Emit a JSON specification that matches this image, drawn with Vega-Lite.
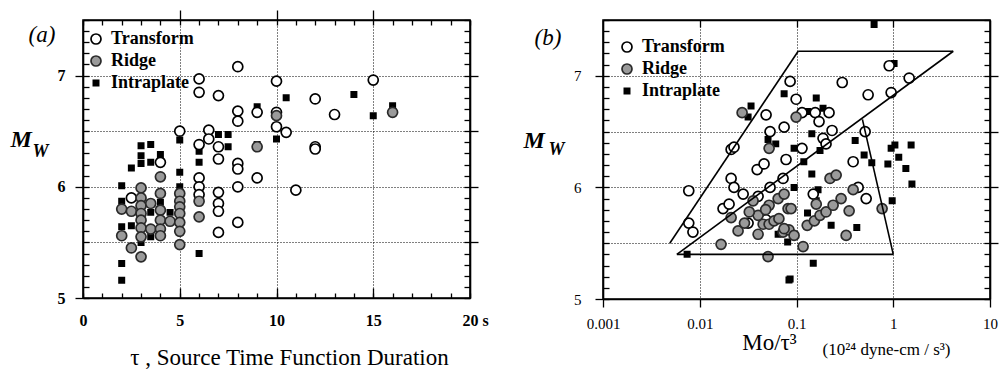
{
  "$schema": "https://vega.github.io/schema/vega-lite/v6.json",
  "padding": {"left": 10, "top": 9, "right": 5, "bottom": 0},
  "spacing": 22,
  "datasets": {
    "a": [
      {"t":"Intraplate","x":2,"m":6.01},{"t":"Intraplate","x":2,"m":5.87},{"t":"Intraplate","x":2,"m":5.64},{"t":"Intraplate","x":2,"m":5.31},{"t":"Intraplate","x":2,"m":5.16},
      {"t":"Intraplate","x":2.5,"m":6.17},{"t":"Intraplate","x":2.5,"m":5.65},{"t":"Intraplate","x":3,"m":6.37},{"t":"Intraplate","x":3,"m":6.28},{"t":"Intraplate","x":3,"m":6.21},
      {"t":"Intraplate","x":3,"m":5.5},{"t":"Intraplate","x":3.5,"m":6.38},{"t":"Intraplate","x":3.5,"m":6.22},{"t":"Intraplate","x":3.5,"m":5.77},{"t":"Intraplate","x":3.5,"m":5.55},
      {"t":"Intraplate","x":4,"m":6.29},{"t":"Intraplate","x":4,"m":5.86},{"t":"Intraplate","x":4,"m":5.78},{"t":"Intraplate","x":4.5,"m":5.77},{"t":"Intraplate","x":5,"m":6.42},
      {"t":"Intraplate","x":5,"m":6.13},{"t":"Intraplate","x":5,"m":6.0},{"t":"Intraplate","x":6,"m":6.32},{"t":"Intraplate","x":6,"m":6.22},{"t":"Intraplate","x":6,"m":5.4},
      {"t":"Intraplate","x":7,"m":6.47},{"t":"Intraplate","x":7.5,"m":6.47},{"t":"Intraplate","x":7.5,"m":6.36},{"t":"Intraplate","x":9,"m":6.72},{"t":"Intraplate","x":9,"m":6.38},
      {"t":"Intraplate","x":10,"m":6.43},{"t":"Intraplate","x":10.5,"m":6.8},{"t":"Intraplate","x":14,"m":6.83},{"t":"Intraplate","x":15,"m":6.64},{"t":"Intraplate","x":16,"m":6.73},
      {"t":"Transform","x":6,"m":6.97},{"t":"Transform","x":6,"m":6.85},{"t":"Transform","x":7,"m":6.82},{"t":"Transform","x":8,"m":7.08},{"t":"Transform","x":8,"m":6.68},
      {"t":"Transform","x":8,"m":6.59},{"t":"Transform","x":5,"m":6.5},{"t":"Transform","x":6.5,"m":6.51},{"t":"Transform","x":6.5,"m":6.43},{"t":"Transform","x":6,"m":6.38},
      {"t":"Transform","x":7,"m":6.36},{"t":"Transform","x":7,"m":6.25},{"t":"Transform","x":4,"m":6.22},{"t":"Transform","x":8,"m":6.21},{"t":"Transform","x":8,"m":6.16},
      {"t":"Transform","x":6,"m":6.08},{"t":"Transform","x":6,"m":6.0},{"t":"Transform","x":6,"m":5.93},{"t":"Transform","x":8,"m":6.0},{"t":"Transform","x":7,"m":5.95},
      {"t":"Transform","x":2.5,"m":5.9},{"t":"Transform","x":7,"m":5.85},{"t":"Transform","x":7,"m":5.78},{"t":"Transform","x":7,"m":5.59},{"t":"Transform","x":8,"m":5.68},
      {"t":"Transform","x":10,"m":6.95},{"t":"Transform","x":12,"m":6.79},{"t":"Transform","x":10,"m":6.67},{"t":"Transform","x":9,"m":6.67},{"t":"Transform","x":13,"m":6.65},
      {"t":"Transform","x":10,"m":6.54},{"t":"Transform","x":10.5,"m":6.49},{"t":"Transform","x":12,"m":6.36},{"t":"Transform","x":12,"m":6.34},{"t":"Transform","x":9,"m":6.08},
      {"t":"Transform","x":11,"m":5.97},{"t":"Transform","x":15,"m":6.96},
      {"t":"Ridge","x":2,"m":5.8},{"t":"Ridge","x":2,"m":5.56},{"t":"Ridge","x":2.5,"m":5.78},{"t":"Ridge","x":2.5,"m":5.45},{"t":"Ridge","x":3,"m":5.99},
      {"t":"Ridge","x":3,"m":5.9},{"t":"Ridge","x":3,"m":5.83},{"t":"Ridge","x":3,"m":5.76},{"t":"Ridge","x":3,"m":5.7},{"t":"Ridge","x":3,"m":5.63},
      {"t":"Ridge","x":3,"m":5.55},{"t":"Ridge","x":3,"m":5.37},{"t":"Ridge","x":3.5,"m":5.85},{"t":"Ridge","x":3.5,"m":5.62},{"t":"Ridge","x":4,"m":6.09},
      {"t":"Ridge","x":4,"m":5.94},{"t":"Ridge","x":4,"m":5.79},{"t":"Ridge","x":4,"m":5.7},{"t":"Ridge","x":4,"m":5.62},{"t":"Ridge","x":4,"m":5.56},
      {"t":"Ridge","x":4.5,"m":5.69},{"t":"Ridge","x":5,"m":5.94},{"t":"Ridge","x":5,"m":5.87},{"t":"Ridge","x":5,"m":5.82},{"t":"Ridge","x":5,"m":5.76},
      {"t":"Ridge","x":5,"m":5.68},{"t":"Ridge","x":5,"m":5.6},{"t":"Ridge","x":5,"m":5.48},{"t":"Ridge","x":6,"m":5.87},{"t":"Ridge","x":6,"m":5.73},
      {"t":"Ridge","x":9,"m":6.36},{"t":"Ridge","x":10,"m":6.64},{"t":"Ridge","x":16,"m":6.67}
    ],
    "b": [
      {"t":"Intraplate","x":0.0339,"m":6.73},{"t":"Intraplate","x":0.0316,"m":6.63},{"t":"Intraplate","x":0.0745,"m":6.84},{"t":"Intraplate","x":0.0508,"m":6.43},{"t":"Intraplate","x":0.061,"m":6.39},
      {"t":"Intraplate","x":0.0074,"m":5.4},{"t":"Intraplate","x":0.0836,"m":5.17},{"t":"Intraplate","x":0.634,"m":7.46},{"t":"Intraplate","x":1.02,"m":7.11},{"t":"Intraplate","x":0.16,"m":6.8},
      {"t":"Intraplate","x":0.13,"m":6.68},{"t":"Intraplate","x":0.188,"m":6.71},{"t":"Intraplate","x":0.144,"m":6.48},{"t":"Intraplate","x":0.0944,"m":6.35},{"t":"Intraplate","x":0.175,"m":6.33},
      {"t":"Intraplate","x":0.404,"m":6.42},{"t":"Intraplate","x":0.951,"m":6.35},{"t":"Intraplate","x":1.04,"m":6.38},{"t":"Intraplate","x":1.53,"m":6.38},{"t":"Intraplate","x":1.14,"m":6.27},
      {"t":"Intraplate","x":0.5,"m":6.29},{"t":"Intraplate","x":0.6,"m":6.22},{"t":"Intraplate","x":0.88,"m":6.21},{"t":"Intraplate","x":1.35,"m":6.17},{"t":"Intraplate","x":1.56,"m":6.03},
      {"t":"Intraplate","x":0.119,"m":6.23},{"t":"Intraplate","x":0.144,"m":6.12},{"t":"Intraplate","x":0.0944,"m":6.0},{"t":"Intraplate","x":0.167,"m":5.98},{"t":"Intraplate","x":0.16,"m":5.88},
      {"t":"Intraplate","x":0.13,"m":5.77},{"t":"Intraplate","x":0.228,"m":5.66},{"t":"Intraplate","x":0.42,"m":5.64},{"t":"Intraplate","x":0.975,"m":5.88},{"t":"Intraplate","x":0.081,"m":5.51},
      {"t":"Intraplate","x":0.149,"m":5.32},{"t":"Intraplate","x":0.0859,"m":5.18},{"t":"Intraplate","x":0.0646,"m":5.58},
      {"t":"Transform","x":0.0077,"m":5.97},{"t":"Transform","x":0.0077,"m":5.68},{"t":"Transform","x":0.0085,"m":5.6},{"t":"Transform","x":0.0211,"m":6.34},{"t":"Transform","x":0.0226,"m":6.36},
      {"t":"Transform","x":0.0211,"m":6.08},{"t":"Transform","x":0.0226,"m":6.0},{"t":"Transform","x":0.0281,"m":5.94},{"t":"Transform","x":0.0174,"m":5.81},{"t":"Transform","x":0.0201,"m":5.85},
      {"t":"Transform","x":0.0392,"m":6.16},{"t":"Transform","x":0.0462,"m":6.21},{"t":"Transform","x":0.0485,"m":6.65},{"t":"Transform","x":0.0533,"m":6.5},{"t":"Transform","x":0.0745,"m":6.54},
      {"t":"Transform","x":0.078,"m":6.25},{"t":"Transform","x":0.0726,"m":6.08},{"t":"Transform","x":0.0533,"m":6.0},{"t":"Transform","x":0.0401,"m":5.92},{"t":"Transform","x":0.0485,"m":5.71},
      {"t":"Transform","x":0.0316,"m":5.68},{"t":"Transform","x":0.0859,"m":6.95},{"t":"Transform","x":0.297,"m":6.94},{"t":"Transform","x":0.0991,"m":6.79},{"t":"Transform","x":0.114,"m":6.67},
      {"t":"Transform","x":0.156,"m":6.67},{"t":"Transform","x":0.217,"m":6.67},{"t":"Transform","x":0.171,"m":6.59},{"t":"Transform","x":0.55,"m":6.83},{"t":"Transform","x":0.233,"m":6.51},
      {"t":"Transform","x":0.188,"m":6.44},{"t":"Transform","x":0.202,"m":6.39},{"t":"Transform","x":0.114,"m":6.35},{"t":"Transform","x":0.385,"m":6.23},{"t":"Transform","x":0.434,"m":6.0},
      {"t":"Transform","x":0.525,"m":5.9},{"t":"Transform","x":0.149,"m":5.94},{"t":"Transform","x":0.951,"m":6.85},{"t":"Transform","x":1.46,"m":6.98},{"t":"Transform","x":0.908,"m":7.09},
      {"t":"Transform","x":0.512,"m":6.5},
      {"t":"Ridge","x":0.0274,"m":6.67},{"t":"Ridge","x":0.0521,"m":6.35},{"t":"Ridge","x":0.0211,"m":5.73},{"t":"Ridge","x":0.0166,"m":5.49},{"t":"Ridge","x":0.0508,"m":5.38},
      {"t":"Ridge","x":0.0249,"m":5.61},{"t":"Ridge","x":0.029,"m":5.68},{"t":"Ridge","x":0.0356,"m":5.88},{"t":"Ridge","x":0.0401,"m":5.75},{"t":"Ridge","x":0.0521,"m":5.84},
      {"t":"Ridge","x":0.0646,"m":5.9},{"t":"Ridge","x":0.0745,"m":5.94},{"t":"Ridge","x":0.0401,"m":5.58},{"t":"Ridge","x":0.0452,"m":5.67},{"t":"Ridge","x":0.0521,"m":5.67},
      {"t":"Ridge","x":0.0586,"m":5.7},{"t":"Ridge","x":0.0658,"m":5.72},{"t":"Ridge","x":0.0818,"m":5.81},{"t":"Ridge","x":0.0726,"m":5.6},{"t":"Ridge","x":0.0836,"m":5.62},
      {"t":"Ridge","x":0.0991,"m":6.63},{"t":"Ridge","x":0.0879,"m":5.81},{"t":"Ridge","x":0.0745,"m":5.63},{"t":"Ridge","x":0.0944,"m":5.57},{"t":"Ridge","x":0.117,"m":5.47},
      {"t":"Ridge","x":0.16,"m":5.85},{"t":"Ridge","x":0.129,"m":5.66},{"t":"Ridge","x":0.153,"m":5.7},{"t":"Ridge","x":0.175,"m":5.75},{"t":"Ridge","x":0.202,"m":5.78},
      {"t":"Ridge","x":0.239,"m":5.84},{"t":"Ridge","x":0.289,"m":5.9},{"t":"Ridge","x":0.222,"m":6.08},{"t":"Ridge","x":0.257,"m":6.11},{"t":"Ridge","x":0.385,"m":5.98},
      {"t":"Ridge","x":0.35,"m":5.79},{"t":"Ridge","x":0.326,"m":5.57},{"t":"Ridge","x":0.767,"m":5.81},{"t":"Ridge","x":0.0325,"m":5.78},{"t":"Ridge","x":0.048,"m":5.8}
    ],
    "seg": [
      {"x":0.0049,"y":5.5,"x2":0.104,"y2":7.22},
      {"x":0.104,"y":7.22,"x2":4.17,"y2":7.22},
      {"x":4.17,"y":7.22,"x2":0.0058,"y2":5.4},
      {"x":0.0058,"y":5.4,"x2":1.0,"y2":5.4},
      {"x":1.0,"y":5.4,"x2":0.48,"y2":6.61}
    ]
  },
  "hconcat": [
    {
      "width": 387,
      "height": 278,
      "resolve": {"axis": {"x": "independent", "y": "independent"}},
      "layer": [
        {
          "data": {"name": "a"},
          "mark": {"type": "point", "filled": true, "strokeWidth": 1.7, "opacity": 1},
          "encoding": {
            "x": {"field": "x", "type": "quantitative", "scale": {"domain": [0, 20], "nice": false, "zero": false},
              "axis": {"orient": "bottom", "values": [0, 5, 10, 15, 20], "domain": false, "ticks": false,
                "labelExpr": "datum.value == 20 ? '20    s' : format(datum.value, 'd')",
                "labelFontWeight": "bold", "labelFontSize": 16, "labelOverlap": false, "labelFlush": false, "labelBound": false,
                "labelPadding": 14,
                "labelAlign": {"condition": {"test": "datum.value == 20", "value": "left"}, "value": "center"},
                "labelOffset": {"condition": {"test": "datum.value == 20", "value": -8}, "value": 0},
                "grid": true,
                "title": "τ , Source Time Function Duration", "titleFontSize": 23, "titleFontWeight": "normal",
                "titleX": 206, "titleY": 66, "titleAlign": "center", "titleBaseline": "alphabetic"}},
            "y": {"field": "m", "type": "quantitative", "scale": {"domain": [5, 7.5], "nice": false, "zero": false},
              "axis": {"orient": "left", "values": [5, 6, 7], "domain": false, "tickSize": 8, "format": "d",
                "labelFontWeight": "bold", "labelFontSize": 16, "labelOverlap": false, "labelPadding": 10, "grid": false,
                "title": "M", "titleAngle": 0, "titleX": -73, "titleY": 126, "titleAlign": "left", "titleBaseline": "alphabetic",
                "titleFontSize": 24, "titleFontWeight": "bold", "titleFontStyle": "italic"}},
            "shape": {"field": "t", "type": "nominal", "scale": {"domain": ["Transform", "Ridge", "Intraplate"], "range": ["circle", "circle", "square"]},
              "legend": {"orient": "none", "legendX": 4, "legendY": 10, "title": null}},
            "fill": {"field": "t", "type": "nominal", "scale": {"domain": ["Transform", "Ridge", "Intraplate"], "range": ["white", "#9a9a9a", "black"]},
              "legend": {"orient": "none", "legendX": 4, "legendY": 10, "title": null}},
            "stroke": {"field": "t", "type": "nominal", "scale": {"domain": ["Transform", "Ridge", "Intraplate"], "range": ["black", "#2a2a2a", "black"]},
              "legend": {"orient": "none", "legendX": 4, "legendY": 10, "title": null}},
            "size": {"field": "t", "type": "nominal", "scale": {"type": "ordinal", "domain": ["Transform", "Ridge", "Intraplate"], "range": [100, 100, 28]},
              "legend": {"orient": "none", "legendX": 4, "legendY": 10, "title": null}}
          }
        },
        {
          "data": {"name": "a"},
          "mark": {"type": "point", "opacity": 0},
          "encoding": {
            "x": {"field": "x", "type": "quantitative",
              "axis": {"orient": "top", "values": [0,1,2,3,4,5,6,7,8,9,10,11,12,13,14,15,16,17,18,19,20], "labels": false, "grid": false, "tickSize": -5,
                "title": "(a)", "titleX": -55, "titleY": 21, "titleAlign": "left", "titleBaseline": "alphabetic",
                "titleFontSize": 23, "titleFontWeight": "normal", "titleFontStyle": "italic"}},
            "y": {"field": "m", "type": "quantitative",
              "axis": {"orient": "right", "values": [5,5.1,5.2,5.3,5.4,5.5,5.6,5.7,5.8,5.9,6,6.1,6.2,6.3,6.4,6.5,6.6,6.7,6.8,6.9,7,7.1,7.2,7.3,7.4,7.5], "labels": false, "grid": false, "tickSize": -6, "title": null}}
          }
        },
        {
          "data": {"name": "a"},
          "mark": {"type": "point", "opacity": 0},
          "encoding": {
            "x": {"field": "x", "type": "quantitative",
              "axis": {"orient": "bottom", "values": [0,1,2,3,4,5,6,7,8,9,10,11,12,13,14,15,16,17,18,19,20], "labels": false, "grid": false, "tickSize": -5, "title": null}},
            "y": {"field": "m", "type": "quantitative",
              "axis": {"orient": "left", "values": [5,5.1,5.2,5.3,5.4,5.5,5.6,5.7,5.8,5.9,6,6.1,6.2,6.3,6.4,6.5,6.6,6.7,6.8,6.9,7,7.1,7.2,7.3,7.4,7.5], "labels": false, "grid": false, "tickSize": -6,
                "title": "W", "titleAngle": 0, "titleX": -51, "titleY": 136, "titleAlign": "left", "titleBaseline": "alphabetic",
                "titleFontSize": 18, "titleFontWeight": "bold", "titleFontStyle": "italic"}}
          }
        },
        {
          "data": {"name": "a"},
          "mark": {"type": "point", "opacity": 0},
          "encoding": {
            "x": {"field": "x", "type": "quantitative",
              "axis": {"orient": "top", "values": [5, 10, 15], "labels": false, "grid": false, "domain": false, "tickSize": 10, "title": null}},
            "y": {"field": "m", "type": "quantitative",
              "axis": {"orient": "right", "values": [5.5, 6, 6.5, 7], "labels": false, "grid": true, "domain": false, "tickSize": 8, "title": null}}
          }
        },
        {
          "data": {"name": "a"},
          "mark": {"type": "point", "opacity": 0},
          "encoding": {
            "x": {"field": "x", "type": "quantitative",
              "axis": {"orient": "bottom", "values": [5, 10, 15], "labels": false, "grid": false, "domain": false, "tickSize": -10, "title": null}},
            "y": {"field": "m", "type": "quantitative", "axis": null}
          }
        },
        {
          "data": {"values": [{}]},
          "mark": {"type": "rect", "filled": false, "stroke": "black", "strokeWidth": 1.6},
          "encoding": {
            "x": {"datum": 0, "type": "quantitative", "axis": null},
            "x2": {"datum": 20},
            "y": {"datum": 5, "type": "quantitative", "axis": null},
            "y2": {"datum": 7.5}
          }
        }
      ]
    },
    {
      "width": 387,
      "height": 279,
      "resolve": {"axis": {"x": "independent", "y": "independent"}},
      "layer": [
        {
          "data": {"name": "b"},
          "mark": {"type": "point", "filled": true, "strokeWidth": 1.7, "opacity": 1},
          "encoding": {
            "x": {"field": "x", "type": "quantitative", "scale": {"type": "log", "domain": [0.001, 10], "nice": false},
              "axis": {"orient": "bottom", "values": [0.001, 0.01, 0.1, 1, 10],
                "labelExpr": "datum.value < 0.005 ? '0.001' : datum.value < 0.05 ? '0.01' : datum.value < 0.5 ? '0.1' : datum.value < 5 ? '1' : '10'",
                "labelFontSize": 15, "labelOverlap": false, "labelFlush": false, "labelBound": false,
                "tickSize": 8, "labelPadding": 9, "grid": true,
                "title": "Mo/τ³", "titleFontSize": 23, "titleFontWeight": "normal",
                "titleX": 166, "titleY": 50, "titleAlign": "center", "titleBaseline": "alphabetic"}},
            "y": {"field": "m", "type": "quantitative", "scale": {"domain": [5, 7.5], "nice": false, "zero": false},
              "axis": {"orient": "left", "values": [5, 6, 7], "format": "d", "domain": false,
                "labelFontSize": 15, "labelOverlap": false, "labelPadding": 14, "tickSize": 8, "grid": false,
                "title": "M", "titleAngle": 0, "titleX": -80, "titleY": 127, "titleAlign": "left", "titleBaseline": "alphabetic",
                "titleFontSize": 24, "titleFontWeight": "bold", "titleFontStyle": "italic"}},
            "shape": {"field": "t", "type": "nominal", "scale": {"domain": ["Transform", "Ridge", "Intraplate"], "range": ["circle", "circle", "square"]},
              "legend": {"orient": "none", "legendX": 15, "legendY": 18, "title": null}},
            "fill": {"field": "t", "type": "nominal", "scale": {"domain": ["Transform", "Ridge", "Intraplate"], "range": ["white", "#9a9a9a", "black"]},
              "legend": {"orient": "none", "legendX": 15, "legendY": 18, "title": null}},
            "stroke": {"field": "t", "type": "nominal", "scale": {"domain": ["Transform", "Ridge", "Intraplate"], "range": ["black", "#2a2a2a", "black"]},
              "legend": {"orient": "none", "legendX": 15, "legendY": 18, "title": null}},
            "size": {"field": "t", "type": "nominal", "scale": {"type": "ordinal", "domain": ["Transform", "Ridge", "Intraplate"], "range": [100, 100, 28]},
              "legend": {"orient": "none", "legendX": 15, "legendY": 18, "title": null}}
          }
        },
        {
          "data": {"name": "b"},
          "mark": {"type": "point", "opacity": 0},
          "encoding": {
            "x": {"field": "x", "type": "quantitative",
              "axis": {"orient": "top", "values": [0.01, 0.1, 1], "labels": false, "grid": false, "tickSize": -7,
                "title": "(b)", "titleX": -69, "titleY": 24, "titleAlign": "left", "titleBaseline": "alphabetic",
                "titleFontSize": 23, "titleFontWeight": "normal", "titleFontStyle": "italic"}},
            "y": {"field": "m", "type": "quantitative",
              "axis": {"orient": "right", "values": [5,5.1,5.2,5.3,5.4,5.5,5.6,5.7,5.8,5.9,6,6.1,6.2,6.3,6.4,6.5,6.6,6.7,6.8,6.9,7,7.1,7.2,7.3,7.4,7.5], "labels": false, "grid": false, "tickSize": -6, "title": null}}
          }
        },
        {
          "data": {"name": "seg"},
          "mark": {"type": "rule", "color": "black", "strokeWidth": 1.6},
          "encoding": {
            "x": {"field": "x", "type": "quantitative",
              "axis": {"orient": "bottom", "ticks": false, "labels": false, "domain": false, "grid": false,
                "title": "(10²⁴ dyne-cm / s³)", "titleFontSize": 17, "titleFontWeight": "normal",
                "titleX": 283, "titleY": 55, "titleAlign": "center", "titleBaseline": "alphabetic"}},
            "x2": {"field": "x2"},
            "y": {"field": "y", "type": "quantitative",
              "axis": {"orient": "left", "values": [5,5.1,5.2,5.3,5.4,5.5,5.6,5.7,5.8,5.9,6,6.1,6.2,6.3,6.4,6.5,6.6,6.7,6.8,6.9,7,7.1,7.2,7.3,7.4,7.5], "labels": false, "grid": false, "tickSize": -6,
                "title": "W", "titleAngle": 0, "titleX": -55, "titleY": 134, "titleAlign": "left", "titleBaseline": "alphabetic",
                "titleFontSize": 18, "titleFontWeight": "bold", "titleFontStyle": "italic"}},
            "y2": {"field": "y2"}
          }
        },
        {
          "data": {"name": "b"},
          "mark": {"type": "point", "opacity": 0},
          "encoding": {
            "x": {"field": "x", "type": "quantitative",
              "axis": {"orient": "top", "values": [0.01, 0.1, 1], "labels": false, "grid": false, "domain": false, "tickSize": 10, "tickOpacity": 0, "title": null}},
            "y": {"field": "m", "type": "quantitative",
              "axis": {"orient": "right", "values": [5.5, 6, 6.5, 7], "labels": false, "grid": true, "domain": false, "tickSize": 8, "title": null}}
          }
        },
        {
          "data": {"values": [{}]},
          "mark": {"type": "rect", "filled": false, "stroke": "black", "strokeWidth": 1.6},
          "encoding": {
            "x": {"datum": 0.001, "type": "quantitative", "axis": null},
            "x2": {"datum": 10},
            "y": {"datum": 5, "type": "quantitative", "axis": null},
            "y2": {"datum": 7.5}
          }
        }
      ]
    }
  ],
  "resolve": {
    "scale": {"shape": "independent", "fill": "independent", "stroke": "independent", "size": "independent"},
    "legend": {"shape": "independent", "fill": "independent", "stroke": "independent", "size": "independent"}
  },
  "config": {
    "view": {"stroke": null},
    "font": "Liberation Serif",
    "axis": {
      "domainColor": "black", "domainWidth": 1.6, "tickColor": "black", "tickWidth": 1.3,
      "labelColor": "black", "titleColor": "black", "labelFont": "Liberation Serif", "titleFont": "Liberation Serif",
      "gridColor": "black", "gridDash": [1, 2], "gridWidth": 1
    },
    "legend": {
      "labelFont": "Liberation Serif", "labelFontSize": 18, "labelFontWeight": "bold", "labelColor": "black",
      "labelOffset": 6, "rowPadding": 4, "padding": 0, "symbolStrokeWidth": 1.7
    }
  }
}
